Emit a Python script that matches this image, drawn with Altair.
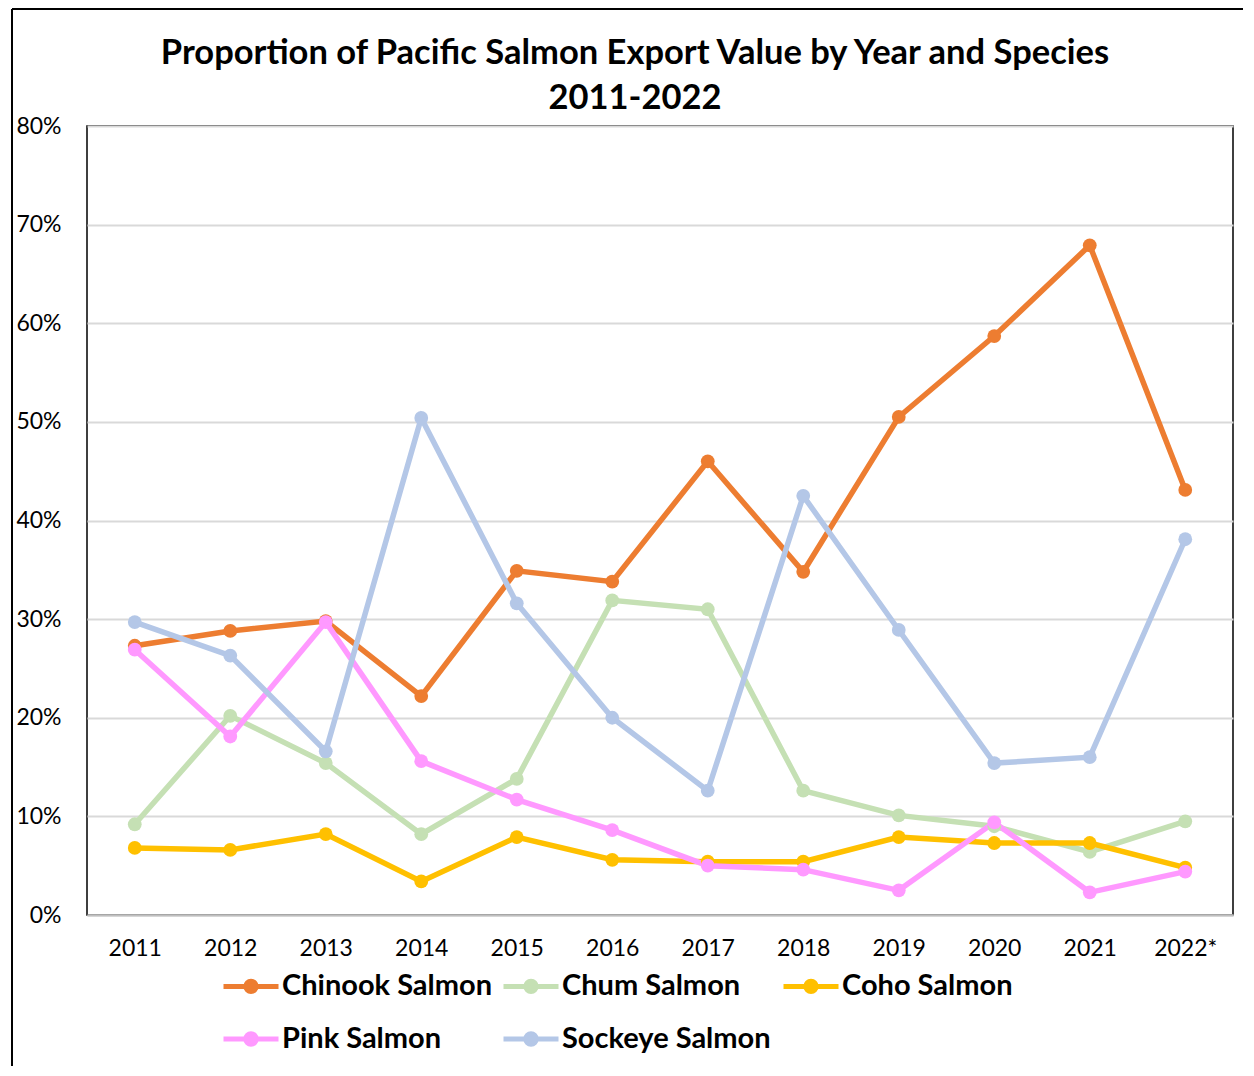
import altair as alt
import pandas as pd

years = ["2011", "2012", "2013", "2014", "2015", "2016", "2017", "2018", "2019", "2020", "2021", "2022*"]
species = ["Chinook Salmon", "Chum Salmon", "Coho Salmon", "Pink Salmon", "Sockeye Salmon"]
colors = ["#ED7D31", "#C5E0B4", "#FFC000", "#FF99FF", "#B4C7E7"]
title_lines = ["Proportion of Pacific Salmon Export Value by Year and Species", "2011-2022"]

chinook = [27.3, 28.8, 29.8, 22.2, 34.9, 33.8, 46.0, 34.8, 50.5, 58.7, 67.9, 43.1]
chum = [9.2, 20.2, 15.4, 8.2, 13.8, 31.9, 31.0, 12.6, 10.1, 9.0, 6.4, 9.5]
coho = [6.8, 6.6, 8.2, 3.4, 7.9, 5.6, 5.4, 5.4, 7.9, 7.3, 7.3, 4.8]
pink = [26.9, 18.1, 29.7, 15.6, 11.7, 8.6, 5.0, 4.6, 2.5, 9.4, 2.3, 4.4]
sockeye = [29.7, 26.3, 16.6, 50.4, 31.6, 20.0, 12.6, 42.5, 28.9, 15.4, 16.0, 38.1]

series = [chinook, chum, coho, pink, sockeye]
rows = []
for name, vals in zip(species, series):
    for yr, v in zip(years, vals):
        rows.append({"Year": yr, "Species": name, "Value": v / 100.0})
df = pd.DataFrame(rows)

FONT = "Lato"
legend_symbol = "M-1,0L1,0M0.19,0A0.19,0.19 0 1,1 -0.19,0A0.19,0.19 0 1,1 0.19,0Z"

lines = alt.Chart(df).mark_line(
    strokeWidth=5.5,
    point=alt.OverlayMarkDef(filled=True, size=190, opacity=1),
).encode(
    x=alt.X("Year:O", sort=years, title=None,
            scale=alt.Scale(type="point", padding=0.5),
            axis=alt.Axis(labelAngle=0, ticks=False, grid=False, domain=True,
                          domainColor="#BFBFBF", domainWidth=2, labelFontSize=23,
                          labelColor="black", labelPadding=22, labelFont=FONT)),
    y=alt.Y("Value:Q", title=None,
            scale=alt.Scale(domain=[0, 0.8], nice=False),
            axis=alt.Axis(format=".0%", values=[0, 0.1, 0.2, 0.3, 0.4, 0.5, 0.6, 0.7, 0.8],
                          domain=False, ticks=False, grid=True, gridColor="#D9D9D9",
                          gridWidth=2, labelFontSize=23, labelColor="black",
                          labelPadding=26, labelFont=FONT)),
    color=alt.Color("Species:N", sort=species,
                    scale=alt.Scale(domain=species, range=colors),
                    legend=alt.Legend(title=None, orient="none", legendX=134, legendY=830,
                                      direction="horizontal", columns=3, gridAlign="all",
                                      symbolType=legend_symbol, symbolSize=3025,
                                      symbolStrokeWidth=5, labelFontSize=29,
                                      labelFontWeight="bold", labelFont=FONT,
                                      labelColor="black", labelOffset=1, labelLimit=400,
                                      columnPadding=0, rowPadding=7, padding=0)),
    order=alt.Order("Species:N"),
)

one = pd.DataFrame({"a": [0]})
left_border = alt.Chart(one).mark_rule(color="black", strokeWidth=2, clip=False).encode(
    x=alt.value(-75), y=alt.value(-117), y2=alt.value(940))
top_border = alt.Chart(one).mark_rule(color="black", strokeWidth=2, clip=False).encode(
    y=alt.value(-117), x=alt.value(-75), x2=alt.value(1156))

title1 = alt.Chart(one).mark_text(
    text=title_lines[0], font=FONT, fontSize=34.5, fontWeight="bold", color="black",
    align="center", baseline="middle", clip=False,
).encode(x=alt.value(548), y=alt.value(-72))
title2 = alt.Chart(one).mark_text(
    text=title_lines[1], font=FONT, fontSize=34.5, fontWeight="bold", color="black",
    align="center", baseline="middle", clip=False,
).encode(x=alt.value(548), y=alt.value(-27))

chart = alt.layer(left_border, top_border, title1, title2, lines).properties(
    width=1146, height=789,
    padding={"left": 3, "top": 0, "right": 0, "bottom": 0},
    background="white",
).configure_view(stroke="black", strokeWidth=1.5)

chart.save("out.html", embed_options={"renderer": "svg", "actions": False})
